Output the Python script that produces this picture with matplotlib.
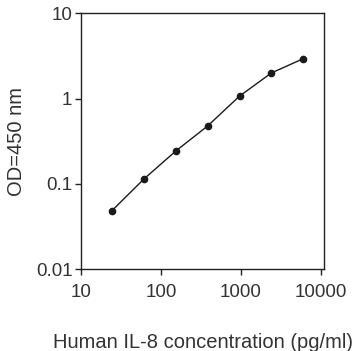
import numpy as np
import matplotlib.pyplot as plt
from matplotlib.ticker import FixedLocator, NullLocator, FixedFormatter

plt.rcParams['font.family'] = ['Liberation Sans', 'DejaVu Sans']

# Standard curve (2.5-fold dilutions)
conc = [24.6, 61.4, 153.6, 384, 960, 2400, 6000]
od = [0.0487, 0.114, 0.243, 0.478, 1.07, 2.0, 2.94]

xticks = [10, 100, 1000, 10000]
xlabels = ['10', '100', '1000', '10000']
yticks = [0.01, 0.1, 1, 10]
ylabels = ['0.01', '0.1', '1', '10']

fig = plt.figure(figsize=(3.62, 3.51), dpi=100)
ax = fig.add_axes([0.223, 0.233, 0.673, 0.729])

ax.plot(conc, od, color='#1a1a1a', linewidth=1, marker='o', markersize=4.5)

ax.set_xscale('log')
ax.set_yscale('log')
ax.set_xlim(10, 11000)
ax.set_ylim(0.01, 10)

ax.xaxis.set_major_locator(FixedLocator(xticks))
ax.xaxis.set_major_formatter(FixedFormatter(xlabels))
ax.xaxis.set_minor_locator(NullLocator())
ax.yaxis.set_major_locator(FixedLocator(yticks))
ax.yaxis.set_major_formatter(FixedFormatter(ylabels))
ax.yaxis.set_minor_locator(NullLocator())

ax.tick_params(direction='out', length=4, width=1, colors='#222222',
               labelsize=13.5, labelcolor='#333333')
ax.tick_params(axis='x', pad=7)
ax.tick_params(axis='y', pad=2)
for s in ax.spines.values():
    s.set_color('#222222')
    s.set_linewidth(1)

ax.set_xlabel('Human IL-8 concentration (pg/ml)', fontsize=14.5, color='#333333', labelpad=23)
ax.set_ylabel('OD=450 nm', fontsize=14.5, color='#333333', labelpad=7)

fig.savefig('out.png', dpi=100)
